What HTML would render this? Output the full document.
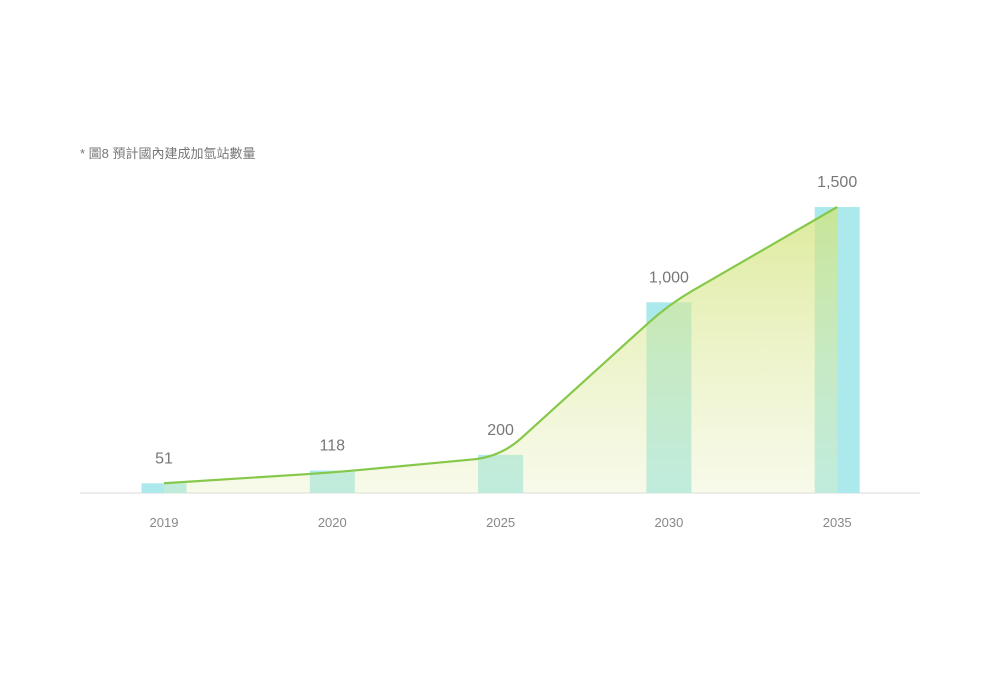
<!DOCTYPE html>
<html><head><meta charset="utf-8"><style>
html,body{margin:0;padding:0;background:#fff;}
svg{display:block;}
text{font-family:"Liberation Sans","Noto Sans CJK TC",sans-serif;}
</style></head><body>
<svg id="chart" width="1000" height="683" viewBox="0 0 1000 683">
<defs>
<linearGradient id="fillGrad" x1="0" y1="0" x2="0" y2="1">
<stop offset="0" stop-color="#d2e47a" stop-opacity="0.75"/>
<stop offset="1" stop-color="#e8f0c0" stop-opacity="0.35"/>
</linearGradient>
</defs>
<text x="80" y="158" font-size="13" fill="#777">* 圖8 預計國內建成加氫站數量</text>
<line x1="80" y1="493" x2="920" y2="493" stroke="#e6e6e6" stroke-width="1.5"/>
<g id="bars"></g>
<path id="area" fill="url(#fillGrad)"/>
<path id="line" fill="none" stroke="#86c84a" stroke-width="2.2" stroke-linejoin="round"/>
<g id="labels"></g>
</svg>
<script>
const categories = ["2019","2020","2025","2030","2035"];
const values = [51,118,200,1000,1500];
const valueLabels = ["51","118","200","1,000","1,500"];

const baseY = 493, topY = 207, maxV = 1500;
const y = v => baseY - (v / maxV) * (baseY - topY);
const x = i => 164 + i * 168.3;
const barW = 45;
const NS = "http://www.w3.org/2000/svg";
const bars = document.getElementById("bars");
const labels = document.getElementById("labels");

categories.forEach((c, i) => {
  const r = document.createElementNS(NS, "rect");
  r.setAttribute("x", x(i) - barW / 2);
  r.setAttribute("y", y(values[i]));
  r.setAttribute("width", barW);
  r.setAttribute("height", baseY - y(values[i]));
  r.setAttribute("fill", "#abe9ec");
  
  
  bars.appendChild(r);

  const t = document.createElementNS(NS, "text");
  t.setAttribute("x", x(i));
  t.setAttribute("y", 527);
  t.setAttribute("text-anchor", "middle");
  t.setAttribute("font-size", "13");
  t.setAttribute("fill", "#888");
  t.textContent = c;
  
  
  labels.appendChild(t);

  const v = document.createElementNS(NS, "text");
  v.setAttribute("x", x(i));
  v.setAttribute("y", y(values[i]) - 20);
  v.setAttribute("text-anchor", "middle");
  v.setAttribute("font-size", "16");
  v.setAttribute("fill", "#777");
  v.textContent = valueLabels[i];
  
  
  labels.appendChild(v);
});

// line points: bar centers, slightly offset below top for middle bars
const pts = values.map((v, i) => [x(i), y(v) + (i > 0 && i < values.length - 1 ? 2 : 0)]);
function smoothPath(p, r) {
  let d = "M" + p[0][0] + "," + p[0][1];
  for (let i = 1; i < p.length - 1; i++) {
    const [ax, ay] = p[i - 1], [bx, by] = p[i], [cx, cy] = p[i + 1];
    const l1 = Math.hypot(bx - ax, by - ay), l2 = Math.hypot(cx - bx, cy - by);
    const r1 = Math.min(r, l1 / 2), r2 = Math.min(r, l2 / 2);
    const sx = bx - (bx - ax) / l1 * r1, sy = by - (by - ay) / l1 * r1;
    const ex = bx + (cx - bx) / l2 * r2, ey = by + (cy - by) / l2 * r2;
    d += " L" + sx + "," + sy + " Q" + bx + "," + by + " " + ex + "," + ey;
  }
  const last = p[p.length - 1];
  d += " L" + last[0] + "," + last[1];
  return d;
}
const d = smoothPath(pts, 28);
document.getElementById("line").setAttribute("d", d);
document.getElementById("area").setAttribute("d", d + " L" + pts[pts.length - 1][0] + "," + baseY + " L" + pts[0][0] + "," + baseY + " Z");
</script>
</body></html>
